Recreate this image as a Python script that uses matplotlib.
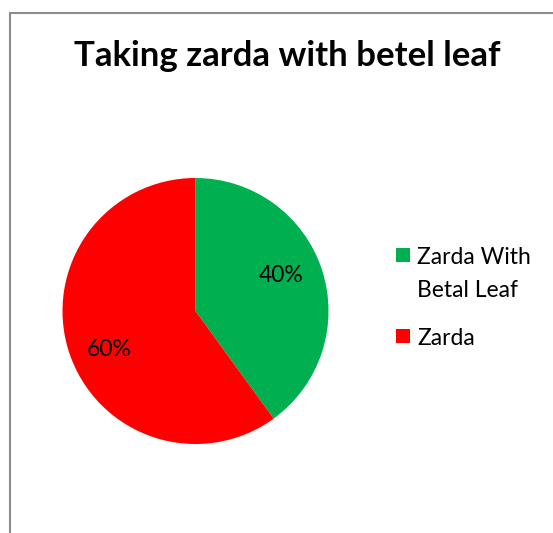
import matplotlib.pyplot as plt
from matplotlib.patches import Rectangle

labels = ["Zarda With\nBetal Leaf", "Zarda"]
shares = [40, 60]
colors = ["#00B050", "#FF0000"]
title = "Taking zarda with betel leaf"

W, H = 553, 533
plt.rcParams["font.family"] = ["Lato", "DejaVu Sans"]


def fx(px):
    return px / W


def fy(py):
    return 1 - py / H


fig = plt.figure(figsize=(W / 100, H / 100), dpi=100)

# chart area border (right and bottom edges fall outside the picture)
fig.add_artist(Rectangle((fx(9.5), -0.1), 1.2, 1.1 - 12.5 / H, transform=fig.transFigure,
                         fill=False, edgecolor="#8c8c8c", linewidth=1.5))

fig.text(fx(287), fy(56), title, ha="center", va="center",
         fontsize=25, fontweight="bold")

cx, cy, r = 195.5, 311, 133
ax = fig.add_axes([fx(cx - r), fy(cy + r), 2 * r / W, 2 * r / H])
wedges, _, autotexts = ax.pie(shares, colors=colors, startangle=90, counterclock=False,
                              autopct="%d%%", pctdistance=0.7, radius=1,
                              textprops={"fontsize": 16.5})
# nudge the labels to where the original puts them
autotexts[0].set_position((0.64, 0.27))
autotexts[1].set_position((-0.65, -0.29))
ax.set_xlim(-1, 1)
ax.set_ylim(-1, 1)
ax.set_aspect("equal")
ax.axis("off")

# legend drawn by hand to keep the wide line spacing of the original
legend_y = [254.5, 336]
for lab, c, y in zip(labels, colors, legend_y):
    fig.add_artist(Rectangle((fx(395.5), fy(y + 7)), 14 / W, 14 / H,
                             transform=fig.transFigure, facecolor=c, edgecolor="none"))
    fig.text(fx(417), fy(y - 8), lab, ha="left", va="top", fontsize=16.5,
             linespacing=1.75, transform=fig.transFigure)

fig.savefig("out.png", dpi=100)
